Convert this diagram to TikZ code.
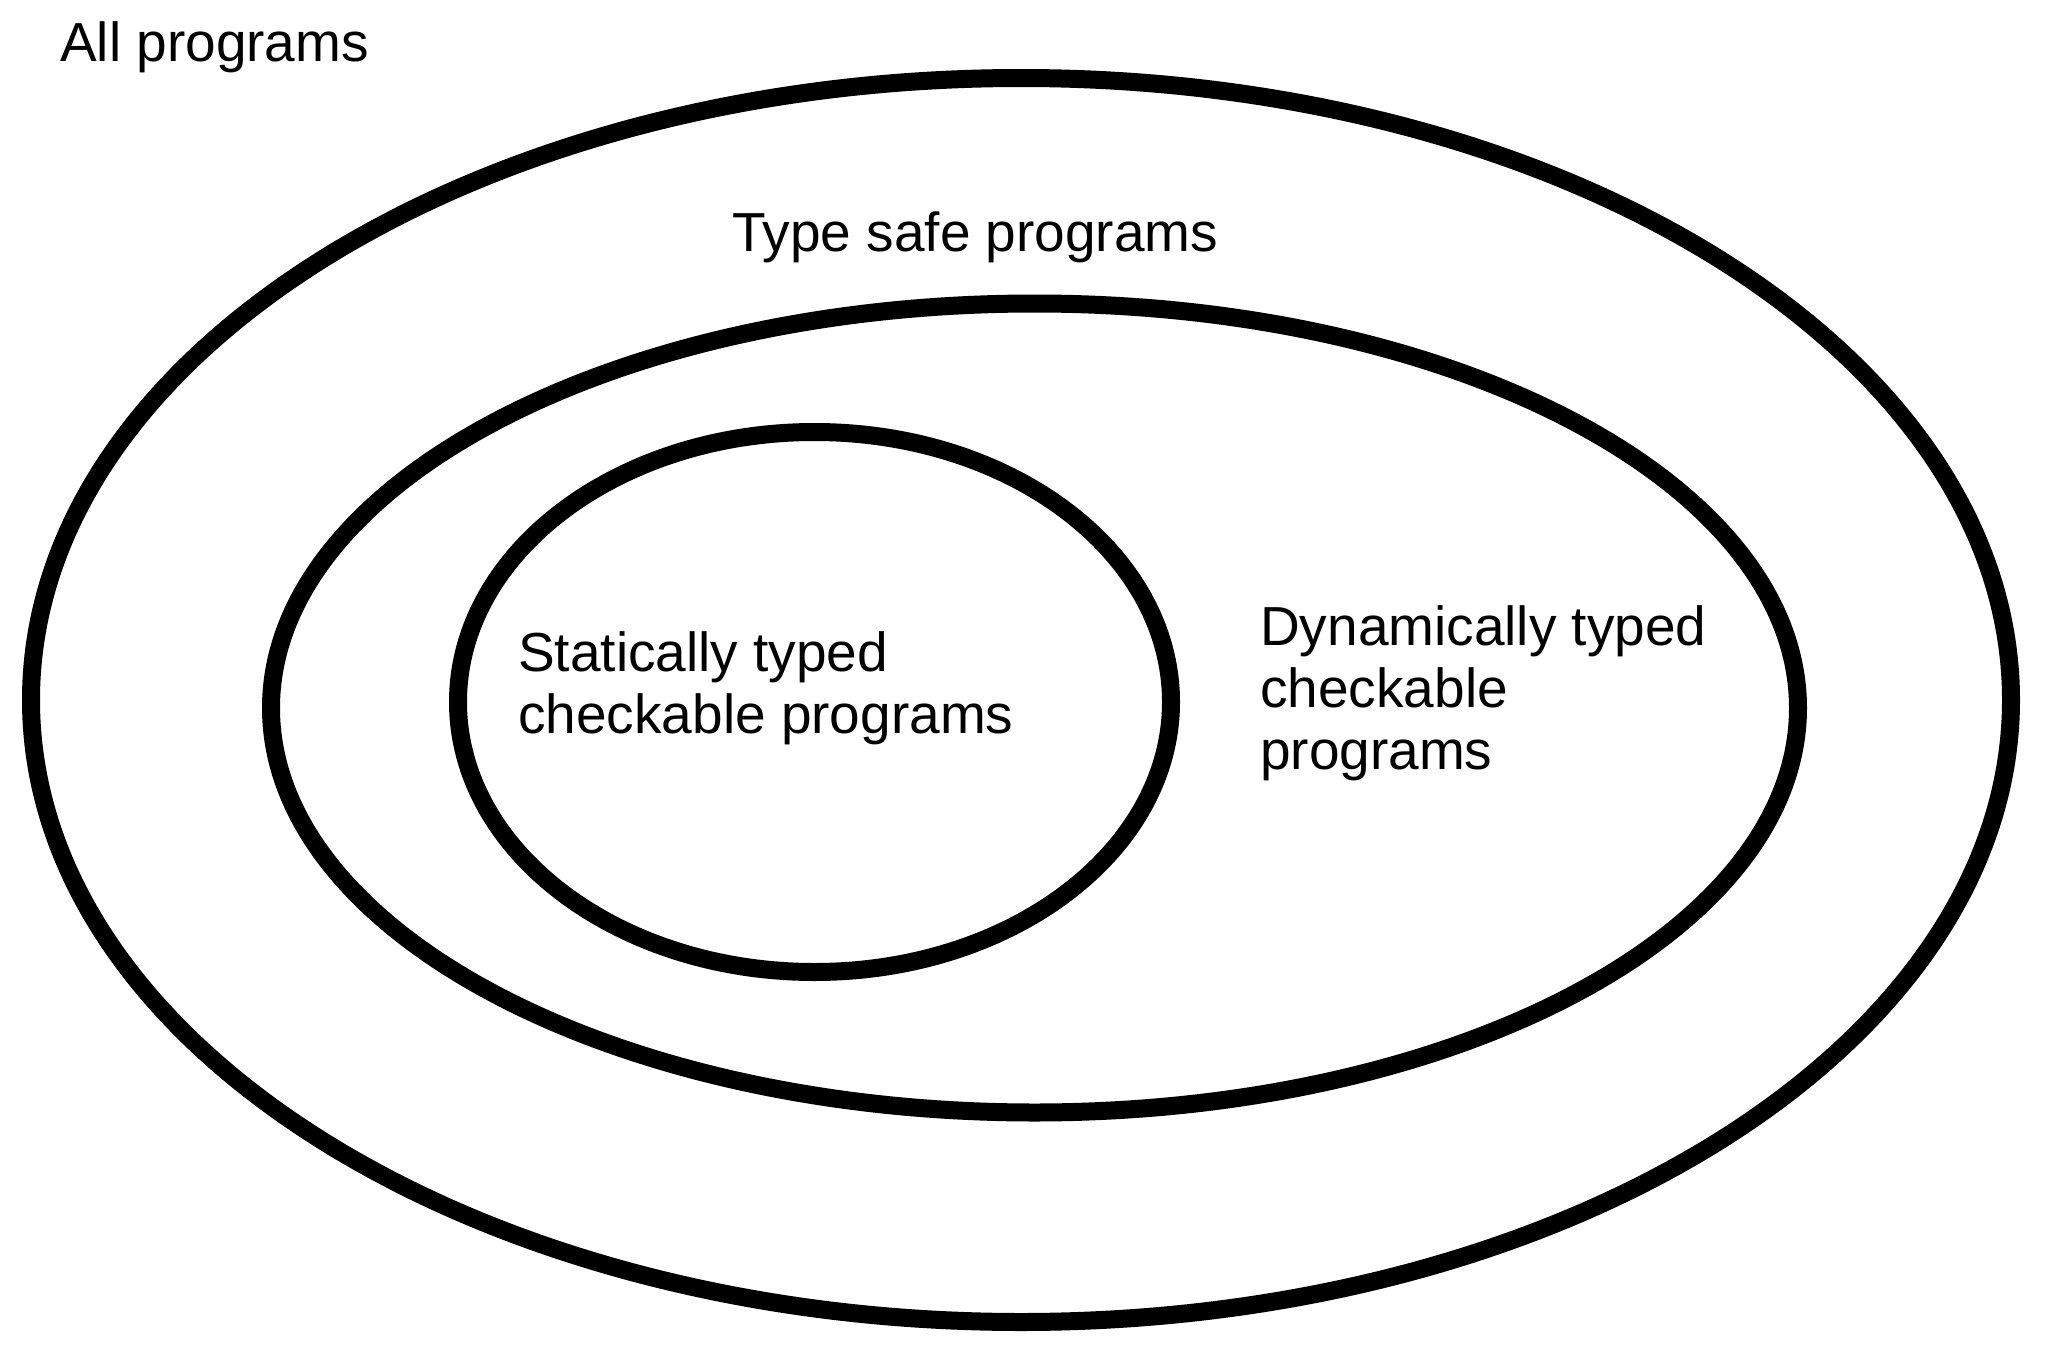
\documentclass[tikz,border=0pt]{standalone}
\usepackage{fontspec}
\setmainfont{Liberation Sans}
\begin{document}
\begin{tikzpicture}[x=1pt,y=-1pt,
  ring/.style={draw=black,line width=18pt},
  lbl/.style={inner sep=0pt,anchor=base west,align=left,font=\fontsize{55}{62}\selectfont}]
\useasboundingbox[fill=white] (0,0) rectangle (2054,1354);
\draw[ring] (1021,700) ellipse [x radius=990,y radius=622];
\draw[ring] (1034.5,708) ellipse [x radius=763.5,y radius=404.5];
\draw[ring] (814.5,702) ellipse [x radius=356.5,y radius=270];
\node[lbl] (all) at (60,62) {All programs};
\node[lbl] (safe) at (732,251) {Type safe programs};
\node[lbl] (static) at (518,733) {Statically typed\\checkable programs};
\node[lbl] (dyn) at (1260,769) {Dynamically typed\\checkable\\programs};
\end{tikzpicture}
\end{document}
